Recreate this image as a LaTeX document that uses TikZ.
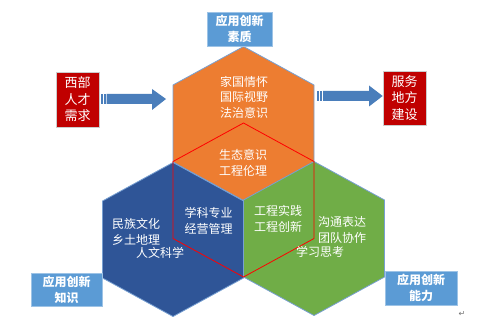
\documentclass[tikz,border=0pt]{standalone}
\usepackage{fontspec}
\setmainfont{Liberation Sans}
\newfontfamily\cjk{Noto Sans CJK SC}
\newfontfamily\djv{DejaVu Sans}
\definecolor{hexorange}{RGB}{237,125,49}
\definecolor{hexblue}{RGB}{47,85,151}
\definecolor{hexgreen}{RGB}{112,173,71}
\definecolor{hexline}{RGB}{120,160,210}
\definecolor{lblblue}{RGB}{91,155,213}
\definecolor{boxred}{RGB}{192,0,0}
\definecolor{arrblue}{RGB}{74,126,187}
\newcommand\hexat[2]{(#1-70.5,#2-38.5) -- (#1,#2-77) -- (#1+70.5,#2-38.5) -- (#1+70.5,#2+38.5) -- (#1,#2+77) -- (#1-70.5,#2+38.5) -- cycle}
\tikzset{
  hexbody/.style={draw=hexline, line width=0.8pt},
  hextext/.style={text=white, align=center, inner sep=0pt, font=\cjk\fontsize{12}{15.5}\selectfont},
  lblbox/.style={fill=lblblue, draw=lblblue!60!white, line width=0.6pt, text=white, align=center, inner sep=0pt, font=\cjk\bfseries\fontsize{12}{16}\selectfont},
  redbox/.style={fill=boxred, draw=black!20, line width=0.8pt, text=white, align=center, inner sep=0pt, font=\cjk\fontsize{13}{16.5}\selectfont},
  arrshape/.style={fill=arrblue, draw=none}
}
\begin{document}
\begin{tikzpicture}[x=1pt,y=-1pt]
\useasboundingbox (0,0) rectangle (489,331);
% hexagons
\fill[hexorange] \hexat{243.5}{123.5};
\draw[hexbody] \hexat{243.5}{123.5};
\fill[hexblue] \hexat{173}{239.5};
\draw[hexbody] \hexat{173}{239.5};
\fill[hexgreen] \hexat{314}{238.5};
\draw[hexbody] \hexat{314}{238.5};
\draw[red, line width=0.8pt] \hexat{243.5}{200};
% texts in hexagons
\node[hextext] (t1) at (244,97) {家国情怀\\国际视野\\法治意识};
\node[hextext] (t2) at (243,163) {生态意识\\工程伦理};
\node[hextext, anchor=west] (t3) at (112,232) {民族文化\\乡土地理};
\node[hextext, anchor=west] (t3b) at (136,253) {人文科学};
\node[hextext] (t4) at (208.5,221) {学科专业\\经营管理};
\node[hextext] (t5) at (278,219) {工程实践\\工程创新};
\node[hextext, anchor=west] (t6) at (318,230) {沟通表达\\团队协作};
\node[hextext, anchor=west] (t6b) at (296,252) {学习思考};
% label boxes
\node[lblbox, minimum width=65pt, minimum height=34pt] (q) at (239.5,29) {应用创新\\素质};
\node[lblbox, minimum width=71pt, minimum height=33pt] (k) at (66.5,289.5) {应用创新\\知识};
\node[lblbox, minimum width=72pt, minimum height=34pt] (c) at (421,288) {应用创新\\能力};
% red boxes
\node[redbox, minimum width=43pt, minimum height=55pt] (need) at (77.5,99.5) {西部\\人才\\需求};
\node[redbox, minimum width=43pt, minimum height=54pt] (serve) at (404.5,98) {服务\\地方\\建设};
% arrows
\coordinate (a1) at (need.east);
\coordinate (a2) at (serve.west);
\fill[arrshape] (100.5,94) rectangle (102.5,104);
\fill[arrshape] (103.5,94) rectangle (105.5,104);
\fill[arrshape] (106.5,94) -- (152,94) -- (152,89) -- (166,99) -- (152,110) -- (152,104) -- (106.5,104) -- cycle;
\fill[arrshape] (317,91) rectangle (319,101);
\fill[arrshape] (320,91) rectangle (322,101);
\fill[arrshape] (323,91) -- (369,91) -- (369,85.5) -- (382.7,96) -- (369,106.5) -- (369,101) -- (323,101) -- cycle;
% return mark
\node[text=black!55, inner sep=0pt, font=\djv\fontsize{8}{8}\selectfont] (ret) at (462,314) {↵};
\end{tikzpicture}
\end{document}
